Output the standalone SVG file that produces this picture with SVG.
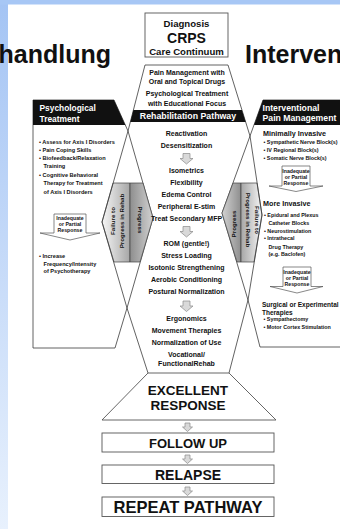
<svg xmlns="http://www.w3.org/2000/svg" width="340" height="529" viewBox="0 0 340 529">
<defs>
<linearGradient id="strip" x1="0" y1="0" x2="0" y2="1"><stop offset="0" stop-color="#a4c4f4"/><stop offset="1" stop-color="#e8f1fd"/></linearGradient>
<linearGradient id="gFailL" x1="0" y1="0" x2="1" y2="0"><stop offset="0" stop-color="#f6f6f6"/><stop offset="1" stop-color="#a6a6a6"/></linearGradient>
<linearGradient id="gProgL" x1="0" y1="0" x2="1" y2="0"><stop offset="0" stop-color="#8e8e8e"/><stop offset="1" stop-color="#d2d2d2"/></linearGradient>
<linearGradient id="gProgR" x1="0" y1="0" x2="1" y2="0"><stop offset="0" stop-color="#d2d2d2"/><stop offset="1" stop-color="#8e8e8e"/></linearGradient>
<linearGradient id="gFailR" x1="0" y1="0" x2="1" y2="0"><stop offset="0" stop-color="#a6a6a6"/><stop offset="1" stop-color="#f6f6f6"/></linearGradient>
<style>
.t{font-family:"Liberation Sans",Arial,Helvetica,sans-serif;font-weight:bold;fill:#111}
.c{text-anchor:middle}
.w{fill:#fff}
.ln{fill:none;stroke:#3a3a3a;stroke-width:0.8}
.box{fill:#fff;stroke:#555;stroke-width:0.9}
.blk{fill:#111}
.garr{fill:#d9d9d9;stroke:#8a8a8a;stroke-width:0.7}
.inad{fill:#fff;stroke:#555;stroke-width:0.7}
.hex{stroke:#444;stroke-width:0.7}
.p7{font-size:7px}
.b57{font-size:5.6px}
.b54{font-size:5.35px}
.s52{font-size:5.2px}
.h9{font-size:8.8px}
.m72{font-size:7.2px}
.r6{font-size:6.2px}
</style>
</defs>
<rect x="0" y="0" width="340" height="529" fill="#fff"/>
<rect x="0" y="0" width="8" height="529" fill="url(#strip)"/>
<rect x="0" y="0" width="340" height="4.5" fill="#a7c7f5"/>

<g id="slide-titles">
<text class="t" x="-1.5" y="63" font-size="25">handlung</text>
<text class="t" x="245" y="63" font-size="25">Interven</text>
</g>

<g id="psychological-treatment">
<path class="ln" d="M33,100 L114,100 L128,131 L153,218 L127,308 L115,348 L33,348 Z"/>
<polygon class="blk" points="33,100 114,100 125.3,125 33,125"/>
<text class="t w" x="39.5" y="111" font-size="8.4">Psychological</text>
<text class="t w" x="39.5" y="121.5" font-size="8.4">Treatment</text>
<text class="t b57" x="39" y="143.7">• Assess for Axis I Disorders</text>
<text class="t b57" x="39" y="152">• Pain Coping Skills</text>
<text class="t b57" x="39" y="160.3">• Biofeedback/Relaxation</text>
<text class="t b57" x="43.5" y="168">Training</text>
<text class="t b57" x="39" y="177">• Cognitive Behavioral</text>
<text class="t b57" x="43.5" y="185.3">Therapy for Treatment</text>
<text class="t b57" x="43.5" y="193.7">of Axis I Disorders</text>
<path class="inad" d="M54,214 L86,214 L86,233 L100,233 L70,240 L40,233 L54,233 Z"/>
<text class="t c s52" x="70" y="220">Inadequate</text>
<text class="t c s52" x="70" y="225.8">or Partial</text>
<text class="t c s52" x="70" y="231.6">Response</text>
<text class="t b57" x="39" y="258">• Increase</text>
<text class="t b57" x="43.5" y="265.5">Frequency/Intensity</text>
<text class="t b57" x="43.5" y="273">of Psychotherapy</text>
</g>

<g id="interventional-pain-management">
<path class="ln" d="M345,100 L263,100 L250,136 L222,213 L248,300 L260,347 L345,347"/>
<polygon class="blk" points="263,100 345,100 345,125 254,125"/>
<text class="t w" x="262.5" y="110.5" font-size="8.7">Interventional</text>
<text class="t w" x="262.5" y="120.5" font-size="8.7">Pain Management</text>
<text class="t m72" x="263" y="135.5">Minimally Invasive</text>
<text class="t b54" x="263.5" y="143.7">• Sympathetic Nerve Block(s)</text>
<text class="t b54" x="263.5" y="152">• IV Regional Block(s)</text>
<text class="t b54" x="263.5" y="160.3">• Somatic Nerve Block(s)</text>
<path class="inad" d="M282,166 L310,166 L310,186 L323,186 L296,191.5 L269,186 L282,186 Z"/>
<text class="t c s52" x="296" y="172.8">Inadequate</text>
<text class="t c s52" x="296" y="178.9">or Partial</text>
<text class="t c s52" x="296" y="185">Response</text>
<text class="t m72" x="263" y="206">More Invasive</text>
<text class="t b54" x="264" y="217">• Epidural and Plexus</text>
<text class="t b54" x="268.5" y="225.3">Catheter Blocks</text>
<text class="t b54" x="264" y="232.7">• Neurostimulation</text>
<text class="t b54" x="264" y="240.3">• Intrathecal</text>
<text class="t b54" x="268.5" y="248.7">Drug Therapy</text>
<text class="t b54" x="268.5" y="256.3">(e.g. Baclofen)</text>
<path class="inad" d="M283,267 L311,267 L311,286.5 L323,286.5 L297,293 L270,286.5 L283,286.5 Z"/>
<text class="t c s52" x="297" y="273.8">Inadequate</text>
<text class="t c s52" x="297" y="279.8">or Partial</text>
<text class="t c s52" x="297" y="285.8">Response</text>
<text class="t" x="262" y="306.5" font-size="6.5">Surgical or Experimental</text>
<text class="t" x="262" y="314.5" font-size="6.5">Therapies</text>
<text class="t b54" x="263.5" y="320.5">• Sympathectomy</text>
<text class="t b54" x="263.5" y="329">• Motor Cortex Stimulation</text>
</g>

<g id="left-progress-arrows">
<polygon class="hex" fill="url(#gFailL)" points="113,183 130,183 130,262 114,262 102,222"/>
<polygon class="hex" fill="url(#gProgL)" points="130,183 143,183 153,218 140,262 130,262"/>
<text class="t c r6" transform="translate(115,221) rotate(-90)">Failure to</text>
<text class="t c r6" transform="translate(124,221) rotate(-90)">Progress in Rehab</text>
<text class="t c r6" transform="translate(138,220) rotate(90)">Progress</text>
</g>

<g id="right-progress-arrows">
<polygon class="hex" fill="url(#gProgR)" points="233,183 241,183 241,262 237,262 222,213"/>
<polygon class="hex" fill="url(#gFailR)" points="241,183 257,183 262,215 254,262 241,262"/>
<text class="t c r6" transform="translate(235.5,224) rotate(-90)">Progress</text>
<text class="t c r6" transform="translate(255,220) rotate(90)">Failure to</text>
<text class="t c r6" transform="translate(246,220) rotate(90)">Progress in Rehab</text>
</g>

<g id="diagnosis">
<rect class="box" x="145" y="13" width="83" height="44"/>
<text class="t c" x="186.5" y="27" font-size="9.6">Diagnosis</text>
<text class="t c" x="186.5" y="42.5" font-size="14">CRPS</text>
<text class="t c" x="186.5" y="54.5" font-size="9.6">Care Continuum</text>
</g>

<g id="rehabilitation-pathway">
<path class="ln" d="M148,373 L127,308 L102,222 L128,131 L145,65 L228,65 L250,136 L262,215 L248,300 L229,373"/>
<text class="t c p7" x="187" y="74.5">Pain Management with</text>
<text class="t c p7" x="187" y="83.5">Oral and Topical Drugs</text>
<text class="t c p7" x="187" y="96">Psychological Treatment</text>
<text class="t c p7" x="187" y="105.5">with Educational Focus</text>
<polygon class="blk" points="133.4,110 241.9,110 245.7,122 130.3,122"/>
<text class="t c w h9" x="188" y="119">Rehabilitation Pathway</text>
<text class="t c p7" x="186.5" y="135.5">Reactivation</text>
<text class="t c p7" x="186.5" y="147.5">Desensitization</text>
<text class="t c p7" x="186.5" y="172.5">Isometrics</text>
<text class="t c p7" x="186.5" y="184.5">Flexibility</text>
<text class="t c p7" x="186.5" y="196.5">Edema Control</text>
<text class="t c p7" x="186.5" y="208.5">Peripheral E-stim</text>
<text class="t c p7" x="186.5" y="220.5">Treat Secondary MFP</text>
<text class="t c p7" x="186.5" y="245.5">ROM (gentle!)</text>
<text class="t c p7" x="186.5" y="257.5">Stress Loading</text>
<text class="t c p7" x="186.5" y="269.5">Isotonic Strengthening</text>
<text class="t c p7" x="186.5" y="281.5">Aerobic Conditioning</text>
<text class="t c p7" x="186.5" y="293.5">Postural Normalization</text>
<text class="t c p7" x="186.5" y="320.5">Ergonomics</text>
<text class="t c p7" x="186.5" y="332.5">Movement Therapies</text>
<text class="t c p7" x="186.5" y="344.5">Normalization of Use</text>
<text class="t c p7" x="186.5" y="356.5">Vocational/</text>
<text class="t c p7" x="186.5" y="365.5">FunctionalRehab</text>
</g>

<g id="excellent-response">
<polygon class="box" points="148,373 229,373 276,420 102,420"/>
<text class="t c" x="188" y="395" font-size="13.5">EXCELLENT</text>
<text class="t c" x="188" y="409.5" font-size="13.5">RESPONSE</text>
</g>

<g id="follow-up">
<rect class="box" x="102" y="433" width="172" height="19"/>
<text class="t c" x="188" y="448" font-size="13">FOLLOW UP</text>
</g>
<g id="relapse">
<rect class="box" x="102" y="465" width="172" height="18.5"/>
<text class="t c" x="188" y="480" font-size="14">RELAPSE</text>
</g>
<g id="repeat-pathway">
<rect class="box" x="102" y="497" width="172" height="19.5"/>
<text class="t c" x="188" y="513" font-size="16.5">REPEAT PATHWAY</text>
</g>

<g id="connectors">
<polygon class="garr" points="183,153.5 190,153.5 190,158.5 193,158.5 186.5,164 180,158.5 183,158.5"/>
<polygon class="garr" points="183,226.5 190,226.5 190,231.5 193,231.5 186.5,237 180,231.5 183,231.5"/>
<polygon class="garr" points="183,301 190,301 190,306 193,306 186.5,311.5 180,306 183,306"/>
<polygon class="garr" points="185,423 190,423 190,427 192.5,427 187.5,431.5 182.5,427 185,427"/>
<polygon class="garr" points="185,455 190,455 190,459 192.5,459 187.5,463.5 182.5,459 185,459"/>
<polygon class="garr" points="185,487 190,487 190,491 192.5,491 187.5,495.5 182.5,491 185,491"/>
</g>
</svg>
